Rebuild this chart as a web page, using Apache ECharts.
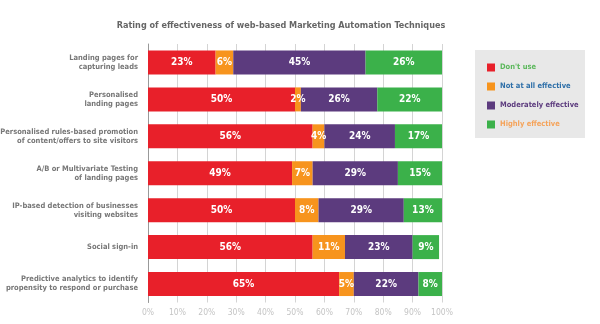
<!DOCTYPE html>
<html><head><meta charset="utf-8">
<script src="https://cdn.jsdelivr.net/npm/echarts@6/dist/echarts.min.js"></script>
<style>html,body{margin:0;padding:0;background:#fff}#c{width:600px;height:324px}</style>
</head><body><div id="c"></div>
<script>
const categories = [
  'Landing pages for\ncapturing leads',
  'Personalised\nlanding pages',
  'Personalised rules-based promotion\nof content/offers to site visitors',
  'A/B or Multivariate Testing\nof landing pages',
  'IP-based detection of businesses\nvisiting websites',
  'Social sign-in',
  'Predictive analytics to identify\npropensity to respond or purchase'
];
const seriesNames = ["Don't use", 'Not at all effective', 'Moderately effective', 'Highly effective'];
const dontUse = [23, 50, 56, 49, 50, 56, 65];
const notAtAll = [6, 2, 4, 7, 8, 11, 5];
const moderately = [45, 26, 24, 29, 29, 23, 22];
const highly = [26, 22, 17, 15, 13, 9, 8];
const values = [dontUse, notAtAll, moderately, highly];
const colors = ['#e8202a', '#f7941d', '#5c3b7e', '#3bb14a'];
const legendTextColors = ['#5cb85c', '#2e6fa8', '#5c3b7e', '#f5a35a'];
const FONT = "'Liberation Sans Narrow', 'DejaVu Sans Condensed', sans-serif";

const chart = echarts.init(document.getElementById('c'), null, {renderer: 'canvas'});
chart.setOption({
  backgroundColor: '#fff',
  animation: false,
  title: {
    text: 'Rating of effectiveness of web-based Marketing Automation Techniques',
    left: 276, top: 16, textAlign: 'center',
    textStyle: {fontFamily: FONT, fontSize: 9, fontWeight: 'bold', color: '#666'}
  },
  graphic: [{
    type: 'rect', left: 475, top: 50, z: -1, silent: true,
    shape: {width: 110, height: 88},
    style: {fill: '#e8e8e8'}
  }],
  legend: {
    orient: 'vertical', left: 475, top: 50,
    padding: [13, 4, 9, 12],
    itemWidth: 8, itemHeight: 8, itemGap: 10,
    icon: 'rect',
    textStyle: {fontFamily: FONT, fontSize: 7.5, fontWeight: 'bold', lineHeight: 9},
    data: seriesNames.map((n, i) => ({name: n, textStyle: {color: legendTextColors[i]}}))
  },
  grid: {left: 148, right: 158, top: 44, bottom: 21.5, containLabel: false, outerBoundsMode: 'none'},
  xAxis: {
    type: 'value', min: 0, max: 100, interval: 10,
    axisLabel: {formatter: '{value}%', fontFamily: FONT, fontSize: 8.5, color: '#c4c4c4', margin: 6},
    splitLine: {show: true, lineStyle: {color: '#d4d4d4', width: 1}},
    axisLine: {show: false}, axisTick: {show: false}
  },
  yAxis: {
    type: 'category', inverse: true, data: categories,
    axisLine: {show: true, lineStyle: {color: '#999'}},
    axisTick: {show: false},
    axisLabel: {fontFamily: FONT, fontSize: 7.5, fontWeight: 'bold', color: '#777', lineHeight: 9, margin: 10, align: 'right'}
  },
  series: values.map((v, i) => ({
    name: seriesNames[i], type: 'bar', stack: 'total', data: v,
    barCategoryGap: '35%', clip: true,
    itemStyle: {color: colors[i]},
    label: {show: true, position: 'inside', formatter: '{c}%', color: '#fff',
      fontFamily: FONT, fontSize: 10, fontWeight: 'bold'}
  }))
});
</script></body></html>
